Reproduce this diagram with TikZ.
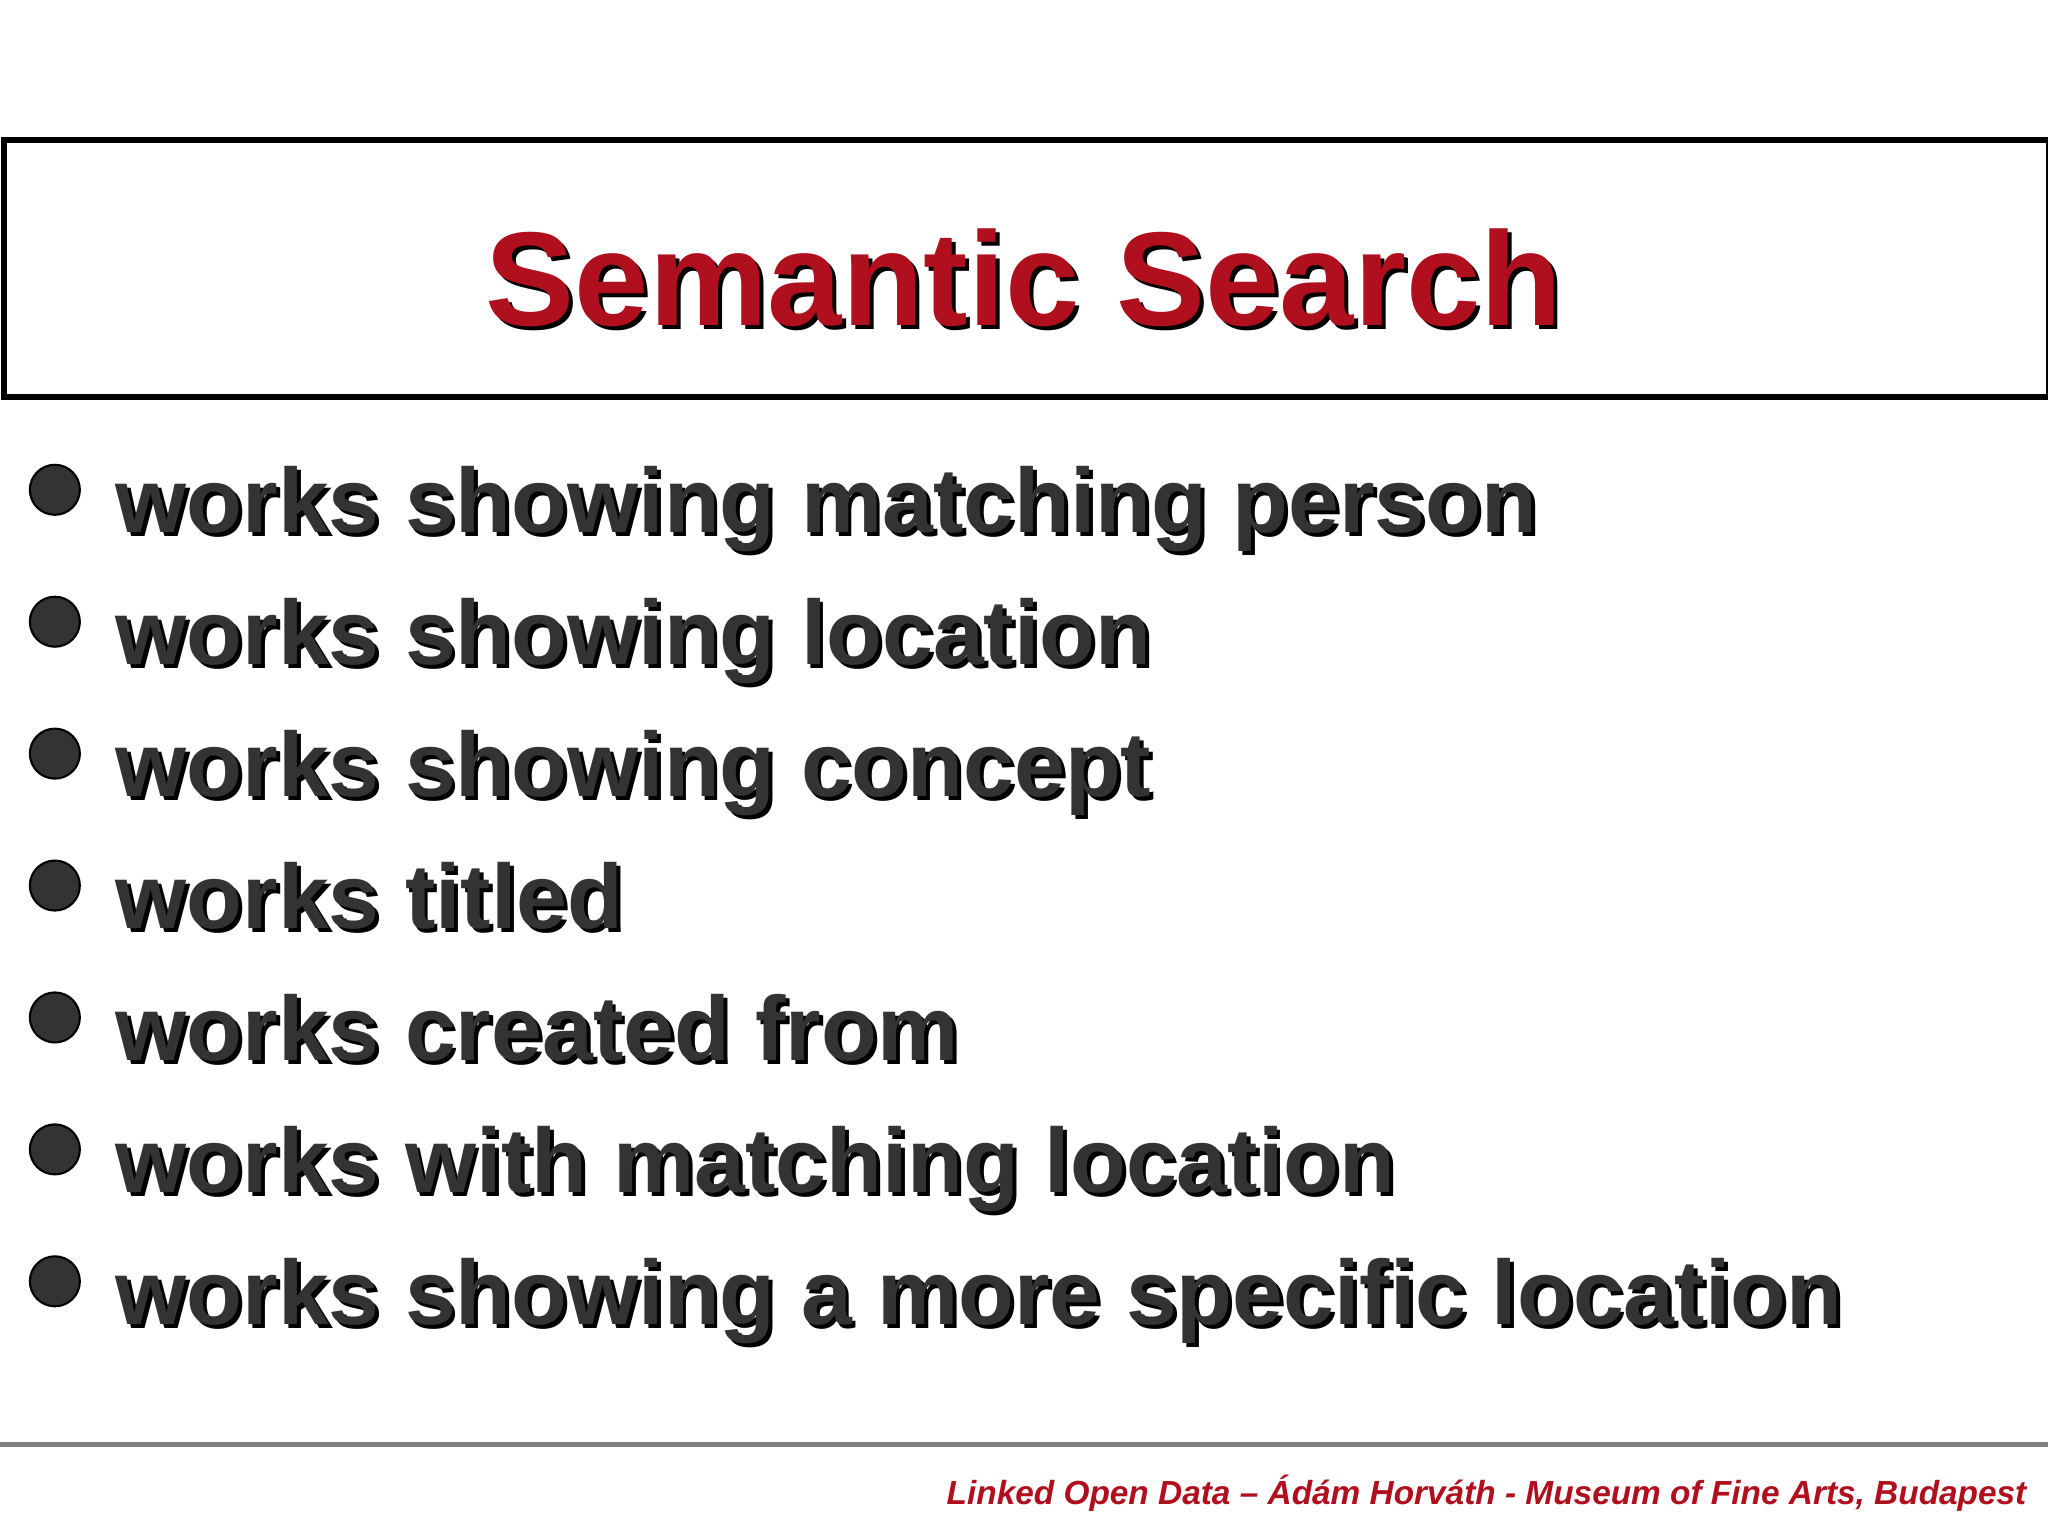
\documentclass[tikz,border=0pt]{standalone}
\usepackage{fontspec}
\setmainfont{Liberation Sans}
\definecolor{titred}{HTML}{B0101E}
\definecolor{txtgray}{HTML}{333333}
\begin{document}
\begin{tikzpicture}[x=0.013061cm,y=-0.013061cm,
  item/.style={anchor=base west,inner sep=0,font=\fontsize{26}{30}\selectfont\bfseries},
  bul/.style={circle,fill=txtgray,draw=black,line width=0.6pt,minimum size=0.5cm,inner sep=0}]
\useasboundingbox (0,0) rectangle (1568,1176);
\fill[white] (0,0) rectangle (1568,1176);
\node[draw=black,line width=1.6pt,minimum width=1566\pgflinewidth,inner sep=0,anchor=north west,
  minimum width=20.45cm,minimum height=2.57cm] (box) at (1,105) {};
\node[inner sep=0,font=\fontsize{38}{44}\selectfont\bfseries,text=black] (tsh) at (787,216) {Semantic Search};
\node[inner sep=0,font=\fontsize{38}{44}\selectfont\bfseries,text=titred] (title) at (784,213) {Semantic Search};
\foreach \t [count=\i] in {works showing matching person,works showing location,works showing concept,works titled,works created from,works with matching location,works showing a more specific location}{
  \pgfmathsetmacro{\yy}{408+(\i-1)*101}
  \node[bul] (b\i) at (42,\yy-33) {};
  \node[item,text=black] (s\i) at (91,\yy+3) {\t};
  \node[item,text=txtgray] (t\i) at (88,\yy) {\t};
}
\draw[gray,line width=1.5pt] (0,1106) -- (1568,1106);
\node[anchor=base east,inner sep=0,text=titred,font=\fontsize{9.5}{11}\selectfont\bfseries\itshape] (foot) at (1552,1152) {Linked Open Data – Ádám Horváth - Museum of Fine Arts, Budapest};
\end{tikzpicture}
\end{document}
